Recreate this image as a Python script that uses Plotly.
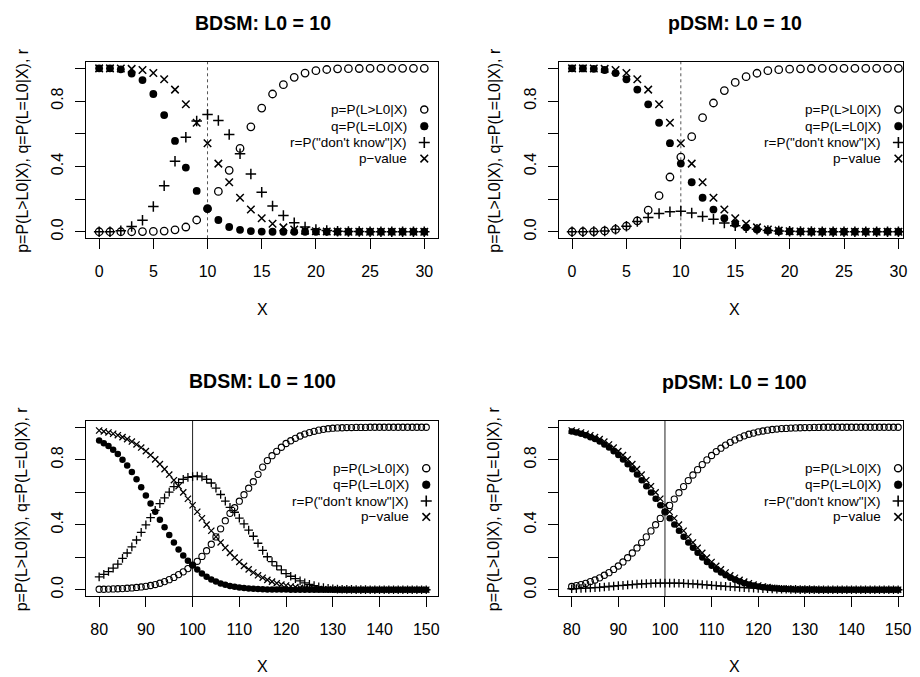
import plotly.graph_objects as go

# ---------------- data ----------------
X_SMALL = [0, 1, 2, 3, 4, 5, 6, 7, 8, 9, 10, 11, 12, 13, 14, 15, 16, 17, 18, 19, 20,
           21, 22, 23, 24, 25, 26, 27, 28, 29, 30]
X_LARGE = [80, 81, 82, 83, 84, 85, 86, 87, 88, 89, 90, 91, 92, 93, 94, 95, 96, 97, 98, 99,
           100, 101, 102, 103, 104, 105, 106, 107, 108, 109, 110, 111, 112, 113, 114, 115,
           116, 117, 118, 119, 120, 121, 122, 123, 124, 125, 126, 127, 128, 129, 130, 131,
           132, 133, 134, 135, 136, 137, 138, 139, 140, 141, 142, 143, 144, 145, 146, 147,
           148, 149, 150]

TITLES = ["BDSM: L0 = 10", "pDSM: L0 = 10", "BDSM: L0 = 100", "pDSM: L0 = 100"]
L0_VALUES = [10, 10, 100, 100]
X_TICKS_SMALL = [0, 5, 10, 15, 20, 25, 30]
X_TICKS_LARGE = [80, 90, 100, 110, 120, 130, 140, 150]
Y_TICKS = [0.0, 0.2, 0.4, 0.6, 0.8, 1.0]
Y_TICK_TEXT = ["0.0", "", "0.4", "", "0.8", ""]
LEGEND_LABELS = ["p=P(L>L0|X)", "q=P(L=L0|X)", "r=P(\"don't know\"|X)", "p\u2212value"]

# BDSM, L0 = 10
bdsm10_p = [0, 0, 0, 0, 0.001, 0.002, 0.004, 0.012, 0.029, 0.072,
            0.141, 0.247, 0.376, 0.51, 0.642, 0.757, 0.843, 0.90, 0.945, 0.971,
            0.986, 0.993, 0.997, 0.998, 0.999, 1.0, 1.0, 1.0, 1.0, 1.0, 1.0]
bdsm10_q = [1.0, 1.0, 0.994, 0.968, 0.928, 0.843, 0.714, 0.556, 0.393, 0.25,
            0.141, 0.072, 0.029, 0.012, 0.004, 0.001, 0, 0, 0, 0,
            0, 0, 0, 0, 0, 0, 0, 0, 0, 0, 0]
bdsm10_r = [0, 0, 0.006, 0.032, 0.071, 0.155, 0.282, 0.432, 0.578, 0.678,
            0.718, 0.681, 0.595, 0.478, 0.354, 0.242, 0.157, 0.10, 0.055, 0.029,
            0.014, 0.007, 0.003, 0.002, 0.001, 0, 0, 0, 0, 0, 0]
pval10 = [1.0, 1.0, 0.9995, 0.997, 0.990, 0.971, 0.933, 0.870, 0.780, 0.667,
          0.542, 0.417, 0.303, 0.208, 0.136, 0.083, 0.049, 0.027, 0.014, 0.007,
          0.003, 0.002, 0.001, 0, 0, 0, 0, 0, 0, 0, 0]

# pDSM, L0 = 10
pdsm10_p = [0, 0, 0.001, 0.005, 0.014, 0.034, 0.067, 0.132, 0.221, 0.335,
            0.457, 0.582, 0.698, 0.788, 0.864, 0.914, 0.949, 0.970, 0.986, 0.992,
            0.995, 0.997, 0.999, 1.0, 1.0, 1.0, 1.0, 1.0, 1.0, 1.0, 1.0]
pdsm10_q = [1.0, 0.9995, 0.997, 0.990, 0.971, 0.933, 0.870, 0.780, 0.667, 0.542,
            0.417, 0.303, 0.208, 0.136, 0.083, 0.049, 0.027, 0.014, 0.007, 0.003,
            0.002, 0.001, 0, 0, 0, 0, 0, 0, 0, 0, 0]
pdsm10_r = [0, 0.0005, 0.002, 0.005, 0.015, 0.033, 0.063, 0.088, 0.112, 0.123,
            0.126, 0.115, 0.094, 0.076, 0.053, 0.037, 0.024, 0.016, 0.007, 0.005,
            0.003, 0.002, 0.001, 0, 0, 0, 0, 0, 0, 0, 0]

# BDSM, L0 = 100
bdsm100_p = [0.003, 0.003, 0.004, 0.005, 0.006, 0.007, 0.009, 0.011, 0.014, 0.017,
             0.021, 0.026, 0.032, 0.04, 0.05, 0.062, 0.076, 0.093, 0.11, 0.13,
             0.152, 0.175, 0.205, 0.24, 0.28, 0.325, 0.375, 0.425, 0.47, 0.505,
             0.545, 0.585, 0.625, 0.665, 0.71, 0.755, 0.795, 0.825, 0.852, 0.877,
             0.9, 0.917, 0.932, 0.946, 0.958, 0.967, 0.975, 0.982, 0.987, 0.991,
             0.994, 0.996, 0.997, 0.998, 0.998, 0.999, 0.999, 0.999, 1.0, 1.0,
             1.0, 1.0, 1.0, 1.0, 1.0, 1.0, 1.0, 1.0, 1.0, 1.0, 1.0]
bdsm100_q = [0.918, 0.902, 0.884, 0.862, 0.836, 0.80, 0.765, 0.725, 0.68, 0.63,
             0.58, 0.53, 0.48, 0.43, 0.385, 0.337, 0.29, 0.248, 0.21, 0.178,
             0.152, 0.125, 0.10, 0.08, 0.063, 0.05, 0.039, 0.03, 0.023, 0.018,
             0.014, 0.01, 0.008, 0.006, 0.004, 0.003, 0.002, 0.002, 0.001, 0.001,
             0.001, 0, 0, 0, 0, 0, 0, 0, 0, 0,
             0, 0, 0, 0, 0, 0, 0, 0, 0, 0,
             0, 0, 0, 0, 0, 0, 0, 0, 0, 0, 0]
bdsm100_r = [0.079, 0.095, 0.112, 0.133, 0.158, 0.193, 0.226, 0.264, 0.306, 0.353,
             0.399, 0.444, 0.488, 0.53, 0.565, 0.601, 0.634, 0.659, 0.68, 0.692,
             0.696, 0.70, 0.695, 0.68, 0.657, 0.625, 0.586, 0.545, 0.507, 0.477,
             0.441, 0.405, 0.367, 0.329, 0.286, 0.242, 0.203, 0.173, 0.147, 0.122,
             0.099, 0.083, 0.068, 0.054, 0.042, 0.033, 0.025, 0.018, 0.013, 0.009,
             0.006, 0.004, 0.003, 0.002, 0.002, 0.001, 0.001, 0.001, 0, 0,
             0, 0, 0, 0, 0, 0, 0, 0, 0, 0, 0]
pval100 = [0.980, 0.974, 0.968, 0.960, 0.951, 0.939, 0.927, 0.912, 0.894, 0.875,
           0.853, 0.829, 0.802, 0.773, 0.742, 0.709, 0.674, 0.637, 0.599, 0.560,
           0.520, 0.480, 0.440, 0.401, 0.363, 0.326, 0.291, 0.258, 0.227, 0.198,
           0.171, 0.147, 0.125, 0.106, 0.089, 0.074, 0.061, 0.050, 0.040, 0.032,
           0.026, 0.020, 0.016, 0.012, 0.009, 0.007, 0.005, 0.004, 0.003, 0.002,
           0.002, 0.001, 0.001, 0.001, 0, 0, 0, 0, 0, 0,
           0, 0, 0, 0, 0, 0, 0, 0, 0, 0, 0]

# pDSM, L0 = 100
pdsm100_p = [0.020, 0.025, 0.032, 0.039, 0.050, 0.060, 0.073, 0.089, 0.105, 0.125,
             0.146, 0.171, 0.197, 0.226, 0.257, 0.290, 0.325, 0.362, 0.400, 0.439,
             0.479, 0.519, 0.558, 0.597, 0.635, 0.672, 0.706, 0.739, 0.770, 0.799,
             0.826, 0.850, 0.871, 0.890, 0.907, 0.922, 0.935, 0.947, 0.957, 0.964,
             0.972, 0.977, 0.982, 0.986, 0.989, 0.992, 0.993, 0.995, 0.996, 0.997,
             0.998, 0.998, 0.999, 0.999, 1.0, 1.0, 1.0, 1.0, 1.0, 1.0,
             1.0, 1.0, 1.0, 1.0, 1.0, 1.0, 1.0, 1.0, 1.0, 1.0, 1.0]
pdsm100_q = [0.974, 0.968, 0.960, 0.951, 0.939, 0.927, 0.912, 0.894, 0.875, 0.853,
             0.829, 0.802, 0.773, 0.742, 0.709, 0.674, 0.637, 0.599, 0.560, 0.520,
             0.480, 0.440, 0.401, 0.363, 0.326, 0.291, 0.258, 0.227, 0.198, 0.171,
             0.147, 0.125, 0.106, 0.089, 0.074, 0.061, 0.050, 0.040, 0.032, 0.026,
             0.020, 0.016, 0.012, 0.009, 0.007, 0.005, 0.004, 0.003, 0.002, 0.002,
             0.001, 0.001, 0.001, 0, 0, 0, 0, 0, 0, 0,
             0, 0, 0, 0, 0, 0, 0, 0, 0, 0, 0]
pdsm100_r = [0.006, 0.007, 0.008, 0.010, 0.011, 0.013, 0.015, 0.017, 0.020, 0.022,
             0.025, 0.027, 0.030, 0.032, 0.034, 0.036, 0.038, 0.039, 0.040, 0.041,
             0.041, 0.041, 0.041, 0.040, 0.039, 0.037, 0.036, 0.034, 0.032, 0.030,
             0.027, 0.025, 0.023, 0.021, 0.019, 0.017, 0.015, 0.013, 0.011, 0.010,
             0.008, 0.007, 0.006, 0.005, 0.004, 0.003, 0.003, 0.002, 0.002, 0.001,
             0.001, 0.001, 0, 0, 0, 0, 0, 0, 0, 0,
             0, 0, 0, 0, 0, 0, 0, 0, 0, 0, 0]

PANELS = [
    (X_SMALL, bdsm10_p, bdsm10_q, bdsm10_r, pval10),
    (X_SMALL, pdsm10_p, pdsm10_q, pdsm10_r, pval10),
    (X_LARGE, bdsm100_p, bdsm100_q, bdsm100_r, pval100),
    (X_LARGE, pdsm100_p, pdsm100_q, pdsm100_r, pval100),
]

# ---------------- layout helpers ----------------
W, H = 920, 677
FONT = "Liberation Sans, Arial, Helvetica, sans-serif"

# plot boxes in pixels: (left, right, top, bottom)
BOXES = [(87, 442, 62, 239), (564, 911, 62, 239), (87, 442, 422, 598), (564, 911, 422, 598)]
XRANGES = [[-1.19, 31.28], [-1.19, 30.43], [77.24, 152.55], [77.3, 151.06]]
YRANGE = [-0.04, 1.04]
TITLE_POS = [(265, 23), (741, 23), (265, 382), (741, 383)]
XLAB_POS = [(265, 310), (741, 310), (265, 668), (741, 668)]
YLAB_X = [22, 498]

fig = go.Figure()
layout = dict(width=W, height=H, margin=dict(l=0, r=0, t=0, b=0),
              paper_bgcolor="white", plot_bgcolor="white", showlegend=False,
              font=dict(family=FONT, color="black", size=16))
annotations = []
shapes = []

for i, (xs, p, q, r, pv) in enumerate(PANELS):
    n = "" if i == 0 else str(i + 1)
    xa, ya = "x" + n, "y" + n
    big = i < 2
    msz = 7.5 if big else 6.2
    lw = 1.3 if big else 1.1
    specs = [
        (p, dict(symbol="circle-open", size=msz, color="black", line=dict(width=lw, color="black"))),
        (q, dict(symbol="circle", size=msz + 0.3, color="black", line=dict(width=0))),
        (r, dict(symbol="cross-thin-open", size=msz, color="black", line=dict(width=lw + 0.2, color="black"))),
        (pv, dict(symbol="x-thin-open", size=msz, color="black", line=dict(width=lw + 0.2, color="black"))),
    ]
    for ys, mk in specs:
        fig.add_trace(go.Scatter(x=xs, y=ys, mode="markers", marker=mk, xaxis=xa, yaxis=ya,
                                 hoverinfo="skip"))

    l, rr, t, b = BOXES[i]
    xticks = X_TICKS_SMALL if big else X_TICKS_LARGE
    layout["xaxis" + n] = dict(
        domain=[l / W, rr / W], range=XRANGES[i], anchor=ya,
        tickmode="array", tickvals=xticks, ticktext=[str(v) for v in xticks],
        ticks="outside", ticklen=10, tickwidth=1.2, tickcolor="black",
        showline=True, linecolor="black", linewidth=1.3, mirror=True,
        showgrid=False, zeroline=False, tickfont=dict(size=16, family=FONT),
        ticklabelstandoff=8)
    layout["yaxis" + n] = dict(
        domain=[1 - b / H, 1 - t / H], range=YRANGE, anchor=xa,
        tickmode="array", tickvals=Y_TICKS, ticktext=Y_TICK_TEXT, tickangle=-90,
        ticks="outside", ticklen=10, tickwidth=1.2, tickcolor="black",
        showline=True, linecolor="black", linewidth=1.3, mirror=True,
        showgrid=False, zeroline=False, tickfont=dict(size=16, family=FONT),
        ticklabelstandoff=6)

    # vertical reference line at L0
    shapes.append(dict(type="line", xref=xa, yref=ya + " domain", x0=L0_VALUES[i], x1=L0_VALUES[i],
                       y0=0, y1=1, layer="below",
                       line=dict(color="#555555" if big else "#222222", width=1,
                                 dash="dot" if big else "solid")))

    # titles / axis labels
    tx, ty = TITLE_POS[i]
    annotations.append(dict(text="<b>" + TITLES[i] + "</b>", x=tx / W, y=1 - ty / H, xref="paper",
                            yref="paper", showarrow=False, xanchor="center", yanchor="middle",
                            font=dict(size=19.5, family=FONT)))
    lx, ly = XLAB_POS[i]
    annotations.append(dict(text="X", x=lx / W, y=1 - ly / H, xref="paper", yref="paper",
                            showarrow=False, xanchor="center", yanchor="middle",
                            font=dict(size=16, family=FONT)))
    annotations.append(dict(text="p=P(L>L0|X), q=P(L=L0|X), r", x=YLAB_X[i % 2] / W,
                            y=1 - ((t + b) / 2) / H, xref="paper", yref="paper",
                            showarrow=False, textangle=-90, xanchor="center", yanchor="middle",
                            font=dict(size=16, family=FONT)))

    # legend (R style: text right-aligned, symbol to the right)
    xend = xs[-1]
    rows = [0.748, 0.646, 0.546, 0.448]
    for k, (lab, yy) in enumerate(zip(LEGEND_LABELS, rows)):
        annotations.append(dict(text=lab, x=xend, y=yy, xref=xa, yref=ya, xshift=-15,
                                showarrow=False, xanchor="right", yanchor="middle",
                                font=dict(size=13.5, family=FONT)))
        common = dict(xref=xa, yref=ya, xsizemode="pixel", ysizemode="pixel",
                      xanchor=xend, yanchor=yy)
        if k == 0:
            shapes.append(dict(type="circle", x0=-3.6, x1=3.6, y0=-3.6, y1=3.6,
                               line=dict(color="black", width=1.4), **common))
        elif k == 1:
            shapes.append(dict(type="circle", x0=-3.9, x1=3.9, y0=-3.9, y1=3.9,
                               fillcolor="black", line=dict(color="black", width=0.5), **common))
        elif k == 2:
            shapes.append(dict(type="line", x0=-5.5, x1=5.5, y0=0, y1=0,
                               line=dict(color="black", width=1.6), **common))
            shapes.append(dict(type="line", x0=0, x1=0, y0=-5.5, y1=5.5,
                               line=dict(color="black", width=1.6), **common))
        else:
            shapes.append(dict(type="line", x0=-3.8, x1=3.8, y0=-3.8, y1=3.8,
                               line=dict(color="black", width=1.6), **common))
            shapes.append(dict(type="line", x0=-3.8, x1=3.8, y0=3.8, y1=-3.8,
                               line=dict(color="black", width=1.6), **common))

layout["annotations"] = annotations
layout["shapes"] = shapes
fig.update_layout(**layout)
fig.write_html("out.html")
